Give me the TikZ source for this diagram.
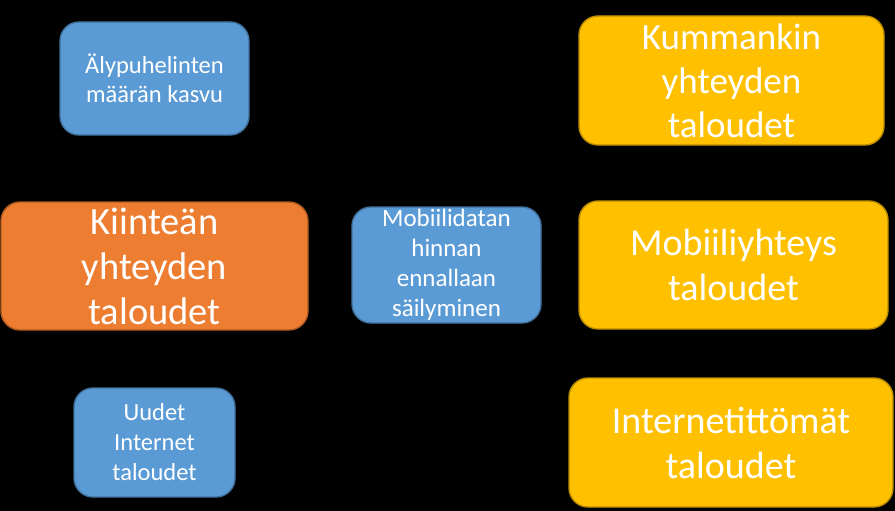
\documentclass[tikz,border=0pt]{standalone}
\usepackage{fontspec}
\setmainfont{Carlito}
\definecolor{bfill}{HTML}{5B9BD5}
\definecolor{bline}{HTML}{41719C}
\definecolor{ofill}{HTML}{ED7D31}
\definecolor{oline}{HTML}{AE5A21}
\definecolor{yfill}{HTML}{FFC000}
\definecolor{yline}{HTML}{BC8C00}
\begin{document}
\begin{tikzpicture}[x=1pt,y=-1pt,
  box/.style={rounded corners=19pt, line width=1.4pt, text=white, align=center, inner sep=0pt, minimum width=#1},
  bluebox/.style={box=#1, fill=bfill, draw=bline},
  orangebox/.style={box=#1, fill=ofill, draw=oline},
  goldbox/.style={box=#1, fill=yfill, draw=yline},
  conn/.style={draw=black, line width=1.5pt}]
\useasboundingbox (0,0) rectangle (895,511);
\fill[black] (0,0) rectangle (895,511);
\node[bluebox=189pt, minimum height=113pt, font=\fontsize{24.5}{29}\selectfont] (aly) at (154.5,78.5) {Älypuhelinten\\määrän kasvu};
\node[orangebox=307pt, minimum height=128pt, font=\fontsize{38.5}{45}\selectfont] (kiin) at (154.5,266) {Kiinteän\\yhteyden\\taloudet};
\node[bluebox=189pt, minimum height=116pt, font=\fontsize{25}{30}\selectfont] (mob) at (446.5,265) {Mobiilidatan\\hinnan\\ennallaan\\säilyminen};
\node[bluebox=161pt, minimum height=109pt, font=\fontsize{24.5}{30}\selectfont] (uud) at (154.5,442.5) {Uudet\\Internet\\taloudet};
\node[goldbox=305pt, minimum height=129pt, font=\fontsize{37}{44}\selectfont] (kum) at (731.5,80.5) {Kummankin\\yhteyden\\taloudet};
\node[goldbox=309pt, minimum height=128pt, font=\fontsize{38}{45}\selectfont] (mobh) at (733.5,265) {Mobiiliyhteys\\taloudet};
\node[goldbox=324pt, minimum height=129pt, font=\fontsize{38}{45}\selectfont] (inet) at (731,442.5) {Internetittömät\\taloudet};
\coordinate (mid) at (560,265);
\draw[conn] (aly.south) -- (kiin.north);
\draw[conn] (kiin.south) -- (uud.north);
\draw[conn] (kiin.east) -- ([xshift=4pt]kiin.east);
\draw[conn] (mob.east) -- (mobh.west);
\draw[conn] (mob.east) -- (mid) |- (kum.west);
\draw[conn] (mid) |- (inet.west);
\end{tikzpicture}
\end{document}
